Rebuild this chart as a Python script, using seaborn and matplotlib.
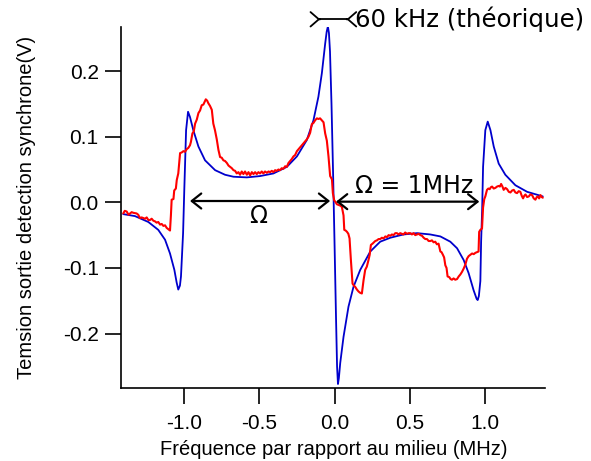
import matplotlib
matplotlib.use("Agg")
import matplotlib.pyplot as plt
import seaborn as sns

# ---- data ----
blue_x = [-1.405, -1.327, -1.238, -1.172, -1.127, -1.094, -1.065, -1.050, -1.039, -1.028,
          -1.021, -1.007, -0.999, -0.987, -0.974, -0.961, -0.939, -0.905, -0.861, -0.794,
          -0.728, -0.672, -0.583, -0.495, -0.406, -0.317, -0.250, -0.184, -0.140, -0.107,
          -0.084, -0.062, -0.052, -0.044, -0.037, -0.030, -0.020, -0.010, 0.000, 0.010,
          0.017, 0.023, 0.029, 0.038, 0.060, 0.093, 0.126, 0.171, 0.238, 0.304,
          0.371, 0.459, 0.549, 0.637, 0.704, 0.770, 0.815, 0.859, 0.892, 0.925,
          0.945, 0.952, 0.960, 0.970, 0.975, 0.982, 0.988, 1.003, 1.019, 1.037,
          1.059, 1.092, 1.136, 1.203, 1.281, 1.385]
blue_y = [-0.018, -0.021, -0.030, -0.042, -0.057, -0.078, -0.103, -0.122, -0.133, -0.127,
          -0.113, -0.047, 0.019, 0.110, 0.138, 0.130, 0.110, 0.085, 0.064, 0.049,
          0.042, 0.039, 0.038, 0.040, 0.044, 0.054, 0.070, 0.095, 0.125, 0.161,
          0.197, 0.242, 0.260, 0.268, 0.258, 0.230, 0.150, 0.050, -0.060, -0.175,
          -0.250, -0.277, -0.268, -0.245, -0.205, -0.159, -0.129, -0.103, -0.075, -0.060,
          -0.054, -0.049, -0.047, -0.049, -0.052, -0.060, -0.070, -0.088, -0.108, -0.134,
          -0.147, -0.149, -0.143, -0.120, -0.060, -0.010, 0.054, 0.110, 0.123, 0.110,
          0.085, 0.059, 0.042, 0.026, 0.016, 0.009]

red_x = [-1.405, -1.395, -1.382, -1.370, -1.360, -1.349, -1.338, -1.316, -1.305, -1.294,
         -1.283, -1.260, -1.249, -1.238, -1.227, -1.216, -1.205, -1.194, -1.183, -1.172,
         -1.160, -1.149, -1.138, -1.127, -1.116, -1.105, -1.094, -1.088, -1.083, -1.071,
         -1.066, -1.055, -1.049, -1.039, -1.033, -1.027, -1.016, -1.005, -0.994, -0.983,
         -0.972, -0.961, -0.955, -0.945, -0.936, -0.927, -0.916, -0.905, -0.894, -0.883,
         -0.872, -0.864, -0.856, -0.847, -0.839, -0.828, -0.816, -0.806, -0.795, -0.783,
         -0.772, -0.761, -0.750, -0.739, -0.728, -0.716, -0.705, -0.694, -0.683, -0.672,
         -0.661, -0.650, -0.639, -0.628, -0.617, -0.606, -0.595, -0.583, -0.572, -0.561,
         -0.550, -0.539, -0.528, -0.517, -0.506, -0.495, -0.484, -0.473, -0.462, -0.450,
         -0.439, -0.428, -0.417, -0.406, -0.395, -0.384, -0.373, -0.362, -0.351, -0.340,
         -0.328, -0.317, -0.306, -0.295, -0.284, -0.273, -0.262, -0.250, -0.239, -0.228,
         -0.217, -0.206, -0.195, -0.184, -0.173, -0.162, -0.151, -0.140, -0.129, -0.117,
         -0.107, -0.096, -0.084, -0.073, -0.062, -0.051, -0.040, -0.029, -0.017, -0.011,
         -0.002, 0.005, 0.016, 0.027, 0.038, 0.049, 0.060, 0.065, 0.074, 0.083,
         0.092, 0.100, 0.109, 0.120, 0.129, 0.138, 0.149, 0.160, 0.171, 0.182,
         0.193, 0.204, 0.215, 0.226, 0.234, 0.242, 0.253, 0.262, 0.271, 0.282,
         0.293, 0.304, 0.315, 0.327, 0.338, 0.349, 0.360, 0.371, 0.382, 0.393,
         0.404, 0.415, 0.426, 0.437, 0.448, 0.459, 0.470, 0.482, 0.493, 0.504,
         0.515, 0.526, 0.537, 0.549, 0.560, 0.571, 0.582, 0.593, 0.604, 0.615,
         0.626, 0.637, 0.648, 0.659, 0.670, 0.681, 0.692, 0.704, 0.712, 0.721,
         0.729, 0.737, 0.745, 0.752, 0.763, 0.772, 0.781, 0.792, 0.803, 0.815,
         0.826, 0.837, 0.848, 0.859, 0.870, 0.881, 0.892, 0.903, 0.915, 0.926,
         0.937, 0.948, 0.958, 0.962, 0.970, 0.981, 0.988, 0.996, 1.003, 1.014,
         1.023, 1.032, 1.040, 1.048, 1.059, 1.070, 1.081, 1.092, 1.100, 1.108,
         1.117, 1.125, 1.137, 1.148, 1.159, 1.170, 1.181, 1.192, 1.203, 1.214,
         1.225, 1.236, 1.245, 1.254, 1.262, 1.270, 1.281, 1.292, 1.303, 1.314,
         1.325, 1.336, 1.345, 1.352, 1.361, 1.370, 1.378, 1.385]
red_y = [-0.017, -0.013, -0.014, -0.019, -0.017, -0.015, -0.016, -0.017, -0.019, -0.024,
         -0.023, -0.025, -0.023, -0.027, -0.027, -0.025, -0.028, -0.029, -0.031, -0.030,
         -0.034, -0.033, -0.036, -0.035, -0.039, -0.041, -0.043, -0.020, 0.004, 0.005,
         0.018, 0.021, 0.034, 0.044, 0.060, 0.075, 0.076, 0.078, 0.077, 0.081,
         0.083, 0.087, 0.092, 0.105, 0.108, 0.120, 0.126, 0.136, 0.140, 0.148,
         0.149, 0.153, 0.157, 0.155, 0.151, 0.147, 0.141, 0.120, 0.110, 0.096,
         0.080, 0.069, 0.068, 0.064, 0.063, 0.060, 0.056, 0.054, 0.052, 0.049,
         0.048, 0.044, 0.046, 0.042, 0.047, 0.043, 0.047, 0.042, 0.046, 0.041,
         0.046, 0.043, 0.046, 0.043, 0.046, 0.044, 0.047, 0.044, 0.047, 0.045,
         0.047, 0.046, 0.048, 0.046, 0.049, 0.048, 0.050, 0.049, 0.052, 0.051,
         0.055, 0.054, 0.060, 0.063, 0.066, 0.070, 0.072, 0.078, 0.081, 0.084,
         0.087, 0.090, 0.093, 0.096, 0.100, 0.106, 0.119, 0.121, 0.125, 0.128,
         0.127, 0.128, 0.125, 0.122, 0.105, 0.094, 0.070, 0.040, 0.035, 0.014,
         0.003, 0.001, -0.003, -0.004, -0.005, -0.007, -0.020, -0.042, -0.043, -0.045,
         -0.048, -0.055, -0.088, -0.124, -0.127, -0.129, -0.133, -0.136, -0.138, -0.139,
         -0.119, -0.103, -0.098, -0.088, -0.080, -0.065, -0.063, -0.061, -0.059, -0.058,
         -0.056, -0.056, -0.054, -0.055, -0.052, -0.053, -0.050, -0.051, -0.049, -0.050,
         -0.047, -0.047, -0.049, -0.047, -0.048, -0.049, -0.046, -0.048, -0.047, -0.047,
         -0.049, -0.047, -0.050, -0.049, -0.048, -0.050, -0.051, -0.054, -0.056, -0.056,
         -0.059, -0.059, -0.058, -0.061, -0.060, -0.064, -0.063, -0.075, -0.076, -0.080,
         -0.084, -0.096, -0.100, -0.113, -0.114, -0.117, -0.118, -0.116, -0.118, -0.117,
         -0.113, -0.110, -0.106, -0.101, -0.095, -0.086, -0.082, -0.080, -0.078, -0.079,
         -0.077, -0.076, -0.075, -0.045, -0.042, -0.040, -0.008, 0.005, 0.009, 0.019,
         0.021, 0.020, 0.023, 0.024, 0.021, 0.022, 0.024, 0.025, 0.024, 0.028,
         0.024, 0.019, 0.022, 0.020, 0.016, 0.015, 0.018, 0.019, 0.015, 0.014,
         0.017, 0.016, 0.010, 0.006, 0.010, 0.012, 0.008, 0.009, 0.012, 0.011,
         0.006, 0.004, 0.008, 0.009, 0.006, 0.011, 0.008, 0.007]

x_ticks = [-1.0, -0.5, 0.0, 0.5, 1.0]
x_tick_labels = ["-1.0", "-0.5", "0.0", "0.5", "1.0"]
y_ticks = [-0.2, -0.1, 0.0, 0.1, 0.2]
y_tick_labels = ["-0.2", "-0.1", "0.0", "0.1", "0.2"]

x_label = "Fréquence par rapport au milieu (MHz)"
y_label = "Temsion sortie detection synchrone(V)"

# ---- style ----
sns.set_style("ticks")
plt.rcParams['font.family'] = ['Liberation Sans', 'DejaVu Sans']

fig = plt.figure(figsize=(5.91, 4.61), dpi=100)
ax = fig.add_axes([0.2042, 0.1577, 0.7180, 0.7844])

sns.lineplot(x=blue_x, y=blue_y, ax=ax, color='#0000CC', linewidth=1.3,
             sort=False, estimator=None)
sns.lineplot(x=red_x, y=red_y, ax=ax, color='#FF0000', linewidth=1.5,
             sort=False, estimator=None)

ax.set_xlim(-1.422, 1.40)
ax.set_ylim(-0.2835, 0.2677)
ax.set_xticks(x_ticks)
ax.set_xticklabels(x_tick_labels)
ax.set_yticks(y_ticks)
ax.set_yticklabels(y_tick_labels)
sns.despine(ax=ax)
for s in ['left', 'bottom']:
    ax.spines[s].set_linewidth(1.2)
    ax.spines[s].set_color('black')
ax.tick_params(axis='both', direction='out', length=11.3, width=1.2,
               colors='black', labelsize=15)
ax.tick_params(axis='x', pad=7)
ax.tick_params(axis='y', pad=4.5)

ax.set_xlabel(x_label, fontsize=14.5, color='black')
ax.set_ylabel(y_label, fontsize=14.5, color='black')
ax.xaxis.set_label_coords(0.502, -0.143)
ax.yaxis.set_label_coords(-0.200, 0.5)

# ---- annotations ----
arrow_kw = dict(arrowstyle='<->,head_length=0.34,head_width=0.27', color='black',
                lw=1.6, mutation_scale=20, shrinkA=0, shrinkB=0)
ax.annotate('', xy=(-0.029, 0.002), xytext=(-0.961, 0.002), arrowprops=arrow_kw)
ax.annotate('', xy=(0.963, 0.001), xytext=(0.010, 0.001), arrowprops=arrow_kw)

ax.text(-0.508, -0.021, 'Ω', fontsize=17, family='DejaVu Sans',
        ha='center', va='center', color='black')
ax.text(0.531, 0.025, 'Ω = 1MHz', fontsize=17, family='DejaVu Sans',
        ha='center', va='center', color='black')

# top 60 kHz marker
yT = 0.279
xL, xR = -0.095, 0.080
ax.plot([xL, xR], [yT, yT], color='black', lw=1.3, clip_on=False)
chev = dict(arrowstyle='->,head_length=0.3,head_width=0.26', color='black', lw=1.3,
            mutation_scale=20, shrinkA=0, shrinkB=0)
ax.annotate('', xy=(xL, yT), xytext=(xL - 0.002, yT), arrowprops=chev, annotation_clip=False)
ax.annotate('', xy=(xR, yT), xytext=(xR + 0.002, yT), arrowprops=chev, annotation_clip=False)
ax.text(0.136, yT, '60 kHz (théorique)', fontsize=17.6, family='DejaVu Sans',
        ha='left', va='center', color='black', clip_on=False)

fig.savefig('out.png', dpi=100)
